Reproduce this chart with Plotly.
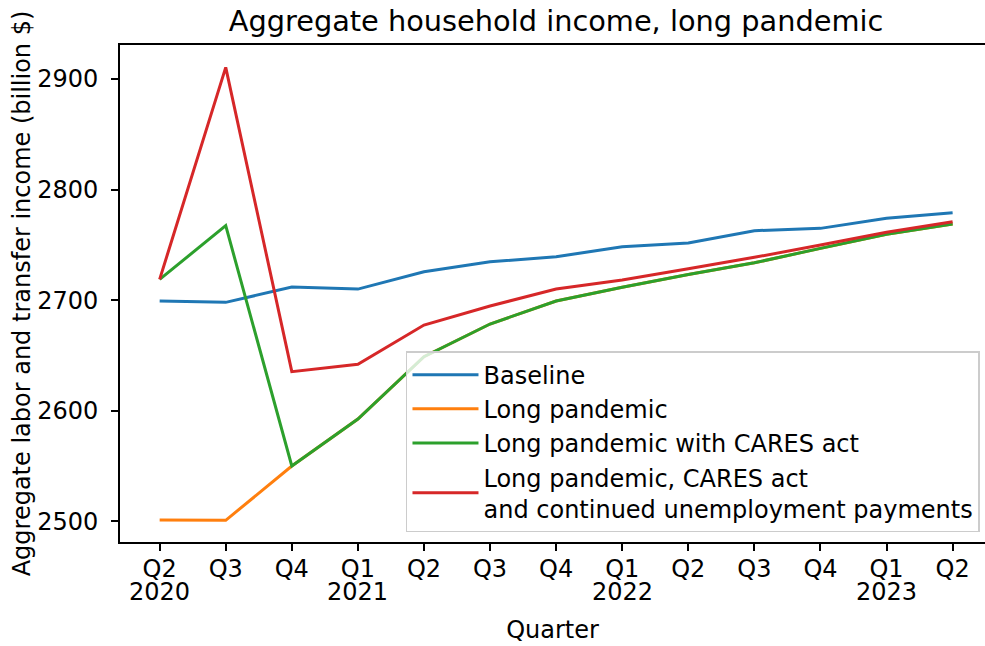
import plotly.graph_objects as go

quarters = ["Q2", "Q3", "Q4", "Q1", "Q2", "Q3", "Q4",
            "Q1", "Q2", "Q3", "Q4", "Q1", "Q2"]
year_labels = ["2020", "", "", "2021", "", "", "", "2022", "", "", "", "2023", ""]

baseline = [2699.2, 2698.0, 2711.8, 2710.0, 2725.7, 2734.7, 2739.2,
            2748.3, 2751.6, 2762.8, 2764.9, 2774.0, 2779.0]
long_pandemic = [2501.2, 2500.9, 2550.0, 2592.5, 2648.8, 2678.4, 2699.2,
                 2711.6, 2723.1, 2733.8, 2746.8, 2759.5, 2768.8]
cares = [2718.8, 2767.3, 2550.0, 2592.5, 2648.8, 2678.4, 2699.2,
         2711.6, 2723.1, 2733.8, 2746.8, 2759.5, 2768.8]
cares_unemp = [2718.8, 2910.5, 2635.3, 2642.0, 2677.5, 2694.7, 2710.0,
               2718.2, 2728.3, 2738.7, 2749.8, 2761.3, 2770.9]

series_names = ["Baseline", "Long pandemic", "Long pandemic with CARES act",
                "Long pandemic, CARES act<br>and continued unemployment payments"]
series_values = [baseline, long_pandemic, cares, cares_unemp]
colors = ["#1f77b4", "#ff7f0e", "#2ca02c", "#d62728"]

x_idx = list(range(len(quarters)))

fig = go.Figure()
for name, vals, col in zip(series_names, series_values, colors):
    fig.add_trace(go.Scatter(x=x_idx, y=vals, mode="lines", name=name,
                             line=dict(color=col, width=3)))

font = "DejaVu Sans"
for i, yl in enumerate(year_labels):
    if yl:
        fig.add_annotation(x=i, y=-0.069, xref="x", yref="paper", text=yl,
                           showarrow=False, xanchor="center", yanchor="top",
                           font=dict(size=24, family=font, color="black"))

fig.update_layout(
    width=985, height=646,
    margin=dict(l=120, r=0, t=45, b=104),
    paper_bgcolor="white", plot_bgcolor="white",
    font=dict(family=font, size=24, color="black"),
    title=dict(text="Aggregate household income, long pandemic",
               x=556 / 985, xanchor="center", y=1 - 21 / 646, yanchor="middle",
               font=dict(size=28.8, family=font, color="black")),
    showlegend=True,
    legend=dict(x=0.9942, xanchor="right", y=0.02, yanchor="bottom",
                bgcolor="rgba(255,255,255,0.8)", bordercolor="#cccccc",
                borderwidth=1.5, font=dict(size=24, family=font),
                tracegroupgap=0, itemwidth=66),
)
fig.update_xaxes(
    range=[-0.6, 12.49], tickmode="array", tickvals=x_idx, ticktext=quarters,
    showline=True, linecolor="black", linewidth=1.6, mirror=True,
    ticks="outside", ticklen=7, tickwidth=1.6, tickcolor="black",
    ticklabelstandoff=-3,
    showgrid=False, zeroline=False, automargin=False,
    title=dict(text="Quarter", font=dict(size=24), standoff=40),
)
fig.update_yaxes(
    range=[2481.3, 2930.7], tickmode="array",
    tickvals=[2500, 2600, 2700, 2800, 2900],
    showline=True, linecolor="black", linewidth=1.6, mirror=False,
    ticks="outside", ticklen=7, tickwidth=1.6, tickcolor="black",
    ticklabelstandoff=8,
    showgrid=False, zeroline=False, automargin=False,
    title=dict(text="Aggregate labor and transfer income (billion $)",
               font=dict(size=24), standoff=0),
)
fig.write_html("out.html",
               config={"displayModeBar": False},
               post_script="document.body.style.margin='0px';"
                           "document.body.style.overflow='hidden';")
